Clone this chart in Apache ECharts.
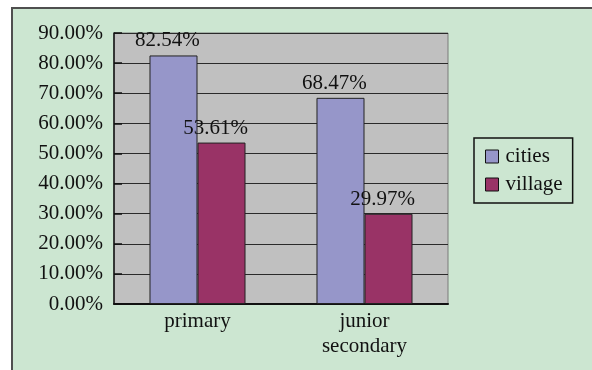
<!DOCTYPE html>
<html>
<head>
<meta charset="utf-8">
<script src="https://cdn.jsdelivr.net/npm/echarts@6/dist/echarts.min.js"></script>
<style>
  html, body { margin: 0; padding: 0; background: #fff; }
  #chart-container { width: 592px; height: 370px; }
</style>
</head>
<body>
<div id="chart-container"></div>
<script>
var categories = ['primary', 'junior\nsecondary'];
var citiesValues = [82.54, 68.47];
var villageValues = [53.61, 29.97];
var seriesNames = ['cities', 'village'];

var FONT = "'Liberation Serif', 'Times New Roman', serif";
var dom = document.getElementById('chart-container');
var myChart = echarts.init(dom, null, { renderer: 'canvas' });

var labelStyle = {
  show: true,
  position: 'top',
  distance: 4,
  offset: [-6, 0],
  color: '#111',
  fontFamily: FONT,
  fontSize: 21,
  formatter: function (p) { return p.value.toFixed(2) + '%'; }
};

var option = {
  animation: false,
  graphic: [{
    type: 'rect',
    z: -10,
    shape: { x: 12, y: 8, width: 640, height: 420 },
    style: { fill: '#cce6d1', stroke: '#4f4f4f', lineWidth: 2 }
  }],
  grid: {
    left: 114, top: 33, right: 144, bottom: 66,
    show: true,
    backgroundColor: '#c0c0c0',
    borderColor: '#7a7a7a',
    borderWidth: 1
  },
  legend: {
    orient: 'vertical',
    left: 474,
    top: 138,
    padding: [8, 10, 8, 11],
    itemGap: 7,
    itemWidth: 13,
    itemHeight: 13,
    borderColor: '#111',
    borderWidth: 1.5,
    icon: 'rect',
    itemStyle: { borderColor: '#111', borderWidth: 1 },
    textStyle: { fontFamily: FONT, fontSize: 21, color: '#111', padding: [0, 0, 0, 2] },
    data: seriesNames
  },
  xAxis: {
    type: 'category',
    data: categories,
    axisLine: { lineStyle: { color: '#111', width: 2 } },
    axisTick: { inside: true, length: 7, lineStyle: { color: '#111', width: 1.5 } },
    axisLabel: { margin: 5, fontFamily: FONT, fontSize: 21, color: '#111', lineHeight: 25 }
  },
  yAxis: {
    type: 'value',
    min: 0,
    max: 90,
    interval: 10,
    axisLine: { show: true, lineStyle: { color: '#111', width: 1.5 } },
    axisTick: { show: true, inside: true, length: 8, lineStyle: { color: '#111', width: 1.5 } },
    splitLine: { lineStyle: { color: '#2a2a2a', width: 1 } },
    axisLabel: {
      margin: 11,
      fontFamily: FONT,
      fontSize: 21,
      color: '#111',
      formatter: function (v) { return v.toFixed(2) + '%'; }
    }
  },
  series: [
    {
      name: seriesNames[0],
      type: 'bar',
      data: citiesValues,
      barGap: '0%',
      barCategoryGap: '42.5%',
      itemStyle: { color: '#9696c9', borderColor: '#222', borderWidth: 1 },
      label: labelStyle
    },
    {
      name: seriesNames[1],
      type: 'bar',
      data: villageValues,
      barGap: '0%',
      barCategoryGap: '42.5%',
      itemStyle: { color: '#993366', borderColor: '#222', borderWidth: 1 },
      label: labelStyle
    }
  ]
};

myChart.setOption(option);
window.addEventListener('resize', myChart.resize);
</script>
</body>
</html>
